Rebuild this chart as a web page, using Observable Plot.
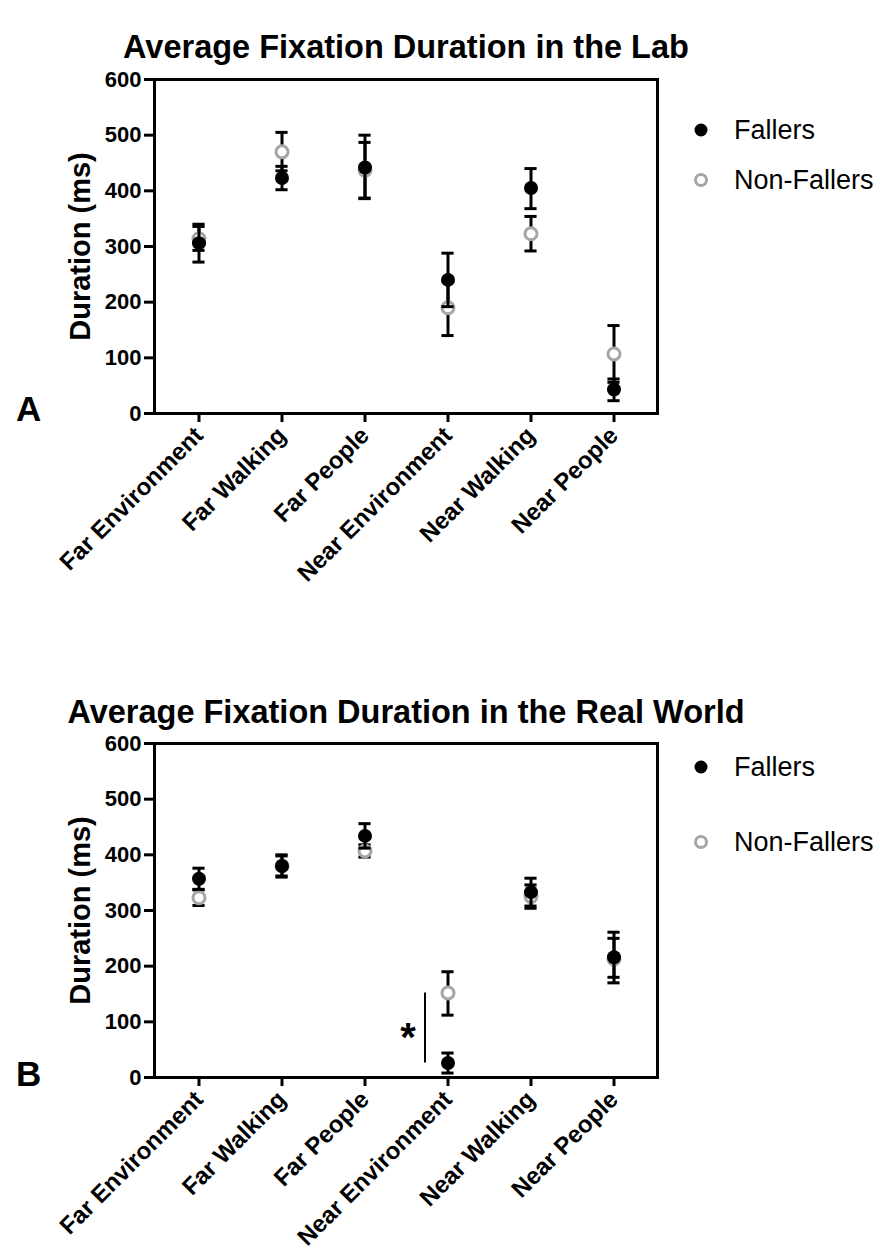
<!DOCTYPE html>
<html><head><meta charset="utf-8">
<script src="https://cdn.jsdelivr.net/npm/d3@7"></script>
<script src="https://cdn.jsdelivr.net/npm/@observablehq/plot@0.6"></script>
<style>
body{margin:0;background:#fff;font-family:"Liberation Sans",Arial,sans-serif;}
#root{position:relative;width:880px;height:1258px;overflow:hidden;background:#fff;}
.panel{position:absolute;left:0;}
.title{position:absolute;left:0;width:812px;text-align:center;font-weight:bold;font-size:32.5px;line-height:1;white-space:nowrap;}
.letter{position:absolute;left:16px;font-weight:bold;font-size:35px;line-height:1;}
.leg{position:absolute;left:690px;height:30px;display:flex;align-items:center;font-size:27px;line-height:1;}
.leg svg{margin-right:22px;}
</style>
</head><body><div id="root"></div>
<script>
// ---- data ----
const categories = ["Far Environment","Far Walking","Far People","Near Environment","Near Walking","Near People"];
const groups = ["Fallers","Non-Fallers"];
const yTicks = [0,100,200,300,400,500,600];
const yLabel = "Duration (ms)";
const titles = ["Average Fixation Duration in the Lab","Average Fixation Duration in the Real World"];
const panelLetters = ["A","B"];

// Lab
const labFallersMean = [306, 423, 442, 240, 405, 43];
const labFallersLow  = [272, 402, 386, 192, 368, 23];
const labFallersHigh = [340, 444, 500, 288, 440, 62];
const labNonFallersMean = [314, 470, 437, 190, 323, 107];
const labNonFallersLow  = [293, 436, 387, 140, 292, 56];
const labNonFallersHigh = [336, 505, 487, 240, 354, 158];

// Real world
const realFallersMean = [357, 380, 434, 26, 333, 216];
const realFallersLow  = [338, 360, 412, 8, 308, 170];
const realFallersHigh = [376, 400, 456, 44, 358, 261];
const realNonFallersMean = [323, 380, 407, 152, 325, 213];
const realNonFallersLow  = [309, 362, 396, 112, 304, 180];
const realNonFallersHigh = [337, 398, 418, 190, 346, 250];

// significance annotation (real world)
const sigCategory = "Near Environment";
const sigLabel = "*";

// ---- drawing ----
const W = 880, mL = 154, mR = 223;
const capW = 13;
const grey = "#a6a6a6";
const font = '"Liberation Sans", Arial, sans-serif';

function rows(m, lo, hi) {
  return categories.map((c, i) => ({category: c, mean: m[i], low: lo[i], high: hi[i]}));
}

function errMarks(data) {
  const bw = (W - mL - mR) / categories.length;
  const inset = (bw - capW) / 2;
  return [
    Plot.ruleX(data, {x: "category", y1: "low", y2: "high", stroke: "black", strokeWidth: 3}),
    Plot.tickY(data, {x: "category", y: "low", stroke: "black", strokeWidth: 3, insetLeft: inset, insetRight: inset}),
    Plot.tickY(data, {x: "category", y: "high", stroke: "black", strokeWidth: 3, insetLeft: inset, insetRight: inset})
  ];
}

function makePanel(fall, non, mTop, mBottom, height, extra) {
  return Plot.plot({
    width: W, height,
    marginLeft: mL, marginRight: mR, marginTop: mTop, marginBottom: mBottom,
    style: {fontFamily: font, fontWeight: "bold", color: "black", background: "transparent", overflow: "visible"},
    x: {type: "band", domain: categories, padding: 0},
    y: {domain: [0, 600]},
    marks: [
      Plot.axisY({ticks: yTicks, tickSize: 10, tickPadding: 3, strokeWidth: 3, label: null, fontSize: 22, fontWeight: "bold"}),
      Plot.axisX({tickRotate: -45, tickSize: 9, tickPadding: 9, strokeWidth: 3, label: null, fontSize: 24, fontWeight: "bold"}),
      Plot.text([yLabel], {text: d => d, frameAnchor: "left", textAnchor: "middle", dx: -74, rotate: -90, fontSize: 29, fontWeight: "bold"}),
      ...errMarks(non),
      Plot.dot(non, {x: "category", y: "mean", r: 6, stroke: grey, strokeWidth: 3, fill: "white"}),
      ...errMarks(fall),
      Plot.dot(fall, {x: "category", y: "mean", r: 7, fill: "black", stroke: "none"}),
      ...(extra || []),
      Plot.frame({stroke: "black", strokeWidth: 3})
    ]
  });
}

const root = document.getElementById("root");

function addDiv(cls, text, top) {
  const d = document.createElement("div");
  d.className = cls; d.textContent = text; d.style.top = top + "px";
  root.appendChild(d); return d;
}

function addLegend(top, gap) {
  groups.forEach((g, i) => {
    const d = document.createElement("div");
    d.className = "leg"; d.style.top = (top + i * gap) + "px";
    const filled = i === 0;
    d.innerHTML = `<svg width="22" height="22" viewBox="0 0 22 22"><circle cx="11" cy="11" r="${filled ? 6.5 : 5.5}" fill="${filled ? "black" : "white"}" stroke="${filled ? "none" : grey}" stroke-width="3"/></svg><span>${g}</span>`;
    root.appendChild(d);
  });
}

// Panel A
const pA = makePanel(rows(labFallersMean, labFallersLow, labFallersHigh),
                     rows(labNonFallersMean, labNonFallersLow, labNonFallersHigh),
                     79, 187, 600);
pA.classList.add("panel"); pA.style.top = "0px";
root.appendChild(pA);

// Panel B
const ne = categories.indexOf(sigCategory);
const sig = [{category: sigCategory, low: realFallersMean[ne], high: realNonFallersMean[ne], mid: (realFallersMean[ne] + realNonFallersMean[ne]) / 2, label: sigLabel}];
const pB = makePanel(rows(realFallersMean, realFallersLow, realFallersHigh),
                     rows(realNonFallersMean, realNonFallersLow, realNonFallersHigh),
                     78, 181, 593,
                     [Plot.ruleX(sig, {x: "category", y1: "low", y2: "high", dx: -23, stroke: "black", strokeWidth: 2}),
                      Plot.text(sig, {x: "category", y: "mid", text: "label", dx: -40, dy: 10, fontSize: 40, fontWeight: "bold"})]);
pB.classList.add("panel"); pB.style.top = "665px";
root.appendChild(pB);

addDiv("title", titles[0], 31);
addDiv("title", titles[1], 696);
addDiv("letter", panelLetters[0], 391);
addDiv("letter", panelLetters[1], 1056);
addLegend(115, 50);
addLegend(752, 75);
</script>
</body></html>
